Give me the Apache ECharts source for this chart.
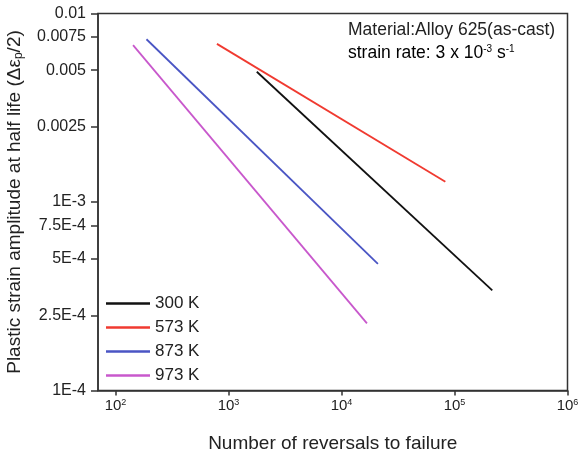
<!DOCTYPE html>
<html>
<head>
<meta charset="utf-8">
<script src="https://cdn.jsdelivr.net/npm/echarts@6/dist/echarts.min.js"></script>
<style>
  html, body { margin: 0; padding: 0; background: #fff; }
  #chart { width: 578px; height: 456px; }
</style>
</head>
<body>
<div id="chart"></div>
<script>
// Coffin-Manson plastic strain lines, Alloy 625 (as-cast)
const seriesNames = ['300 K', '573 K', '873 K', '973 K'];
const seriesColors = ['#111111', '#f03a30', '#4a55c4', '#c858cc'];

// reversals to failure (2Nf) at each line end
const reversals300 = [1780, 216000];
const reversals573 = [790, 83000];
const reversals873 = [188, 21000];
const reversals973 = [143, 16800];

// plastic strain amplitude at the same ends
const strain300 = [0.00491, 0.00034];
const strain573 = [0.0069, 0.00128];
const strain873 = [0.0073, 0.00047];
const strain973 = [0.0068, 0.000227];

// axis ticks
const xTickValues = [100, 1000, 10000, 100000, 1000000];
const xTickExponents = ['2', '3', '4', '5', '6'];
const yTickValues = [0.0001, 0.00025, 0.0005, 0.00075, 0.001, 0.0025, 0.005, 0.0075, 0.01];
const yTickLabels = ['1E-4', '2.5E-4', '5E-4', '7.5E-4', '1E-3', '0.0025', '0.005', '0.0075', '0.01'];

const reversalSets = [reversals300, reversals573, reversals873, reversals973];
const strainSets = [strain300, strain573, strain873, strain973];

const font = 'Liberation Sans, Arial, sans-serif';
const ink = '#222222';

const chart = echarts.init(document.getElementById('chart'));

const series = seriesNames.map((name, i) => ({
  name: name,
  type: 'line',
  showSymbol: false,
  symbol: 'none',
  data: reversalSets[i].map((x, k) => [x, strainSets[i][k]]),
  lineStyle: { color: seriesColors[i], width: 1.8 },
  itemStyle: { color: seriesColors[i] },
  animation: false,
  z: 3
}));

chart.setOption({
  animation: false,
  backgroundColor: '#ffffff',
  grid: {
    left: 98, right: 10.5, top: 13.5, bottom: 65.5,
    outerBoundsMode: 'none',
    containLabel: false,
    show: true, borderColor: '#333333', borderWidth: 1.5,
    backgroundColor: 'transparent'
  },
  legend: {
    orient: 'vertical',
    left: 101, top: 290,
    icon: 'rect',
    itemWidth: 44, itemHeight: 2.5,
    itemGap: 7,
    textStyle: { fontFamily: font, fontSize: 17, color: ink },
    data: seriesNames
  },
  xAxis: {
    type: 'log',
    min: 70, max: 1000000,
    name: 'Number of reversals to failure',
    nameLocation: 'middle',
    nameGap: 44,
    nameTextStyle: { fontFamily: font, fontSize: 19, color: ink },
    axisLine: { show: true, lineStyle: { color: '#333333', width: 1.5 } },
    axisTick: { show: true, length: 5, inside: false, customValues: xTickValues,
      lineStyle: { color: '#333333', width: 1.5 } },
    minorTick: { show: false },
    splitLine: { show: false },
    axisLabel: {
      customValues: xTickValues,
      margin: 8,
      fontFamily: font, fontSize: 15, color: ink,
      formatter: function (v) {
        const idx = xTickValues.findIndex(t => Math.abs(t - v) / t < 1e-6);
        return idx < 0 ? '' : '{b|10}{s|' + xTickExponents[idx] + '}';
      },
      rich: {
        b: { fontFamily: font, fontSize: 15, color: ink, verticalAlign: 'bottom' },
        s: { fontFamily: font, fontSize: 9, color: ink, verticalAlign: 'top' }
      }
    }
  },
  yAxis: {
    type: 'log',
    min: 0.0001, max: 0.01,
    name: '{n|Plastic strain amplitude at half life (Δε}{p|p}{n|/2)}',
    nameLocation: 'middle',
    nameGap: 73,
    nameTextStyle: {
      fontFamily: font, fontSize: 19, color: ink,
      rich: {
        n: { fontFamily: font, fontSize: 19, color: ink },
        p: { fontFamily: font, fontSize: 12, color: ink, verticalAlign: 'bottom', padding: [8, 0, 0, 0] }
      }
    },
    axisLine: { show: true, lineStyle: { color: '#333333', width: 1.5 } },
    axisTick: { show: true, length: 7, customValues: yTickValues,
      lineStyle: { color: '#333333', width: 1.5 } },
    minorTick: { show: false },
    splitLine: { show: false },
    axisLabel: {
      customValues: yTickValues,
      margin: 12,
      fontFamily: font, fontSize: 16, color: ink,
      formatter: function (v) {
        const idx = yTickValues.findIndex(t => Math.abs(t - v) / t < 1e-6);
        return idx < 0 ? '' : yTickLabels[idx];
      }
    }
  },
  graphic: [
    {
      type: 'text', left: 348, top: 21, z: 10,
      style: { text: 'Material:Alloy 625(as-cast)', font: '17.5px ' + font, fill: ink }
    },
    {
      type: 'text', left: 348, top: 44, z: 10,
      style: {
        text: '{n|strain rate: 3 x 10}{s|-3}{n| s}{s|-1}',
        rich: {
          n: { fontFamily: font, fontSize: 17.5, color: ink, verticalAlign: 'bottom' },
          s: { fontFamily: font, fontSize: 10, color: ink, verticalAlign: 'top' }
        }
      }
    }
  ],
  series: series
});
</script>
</body>
</html>
